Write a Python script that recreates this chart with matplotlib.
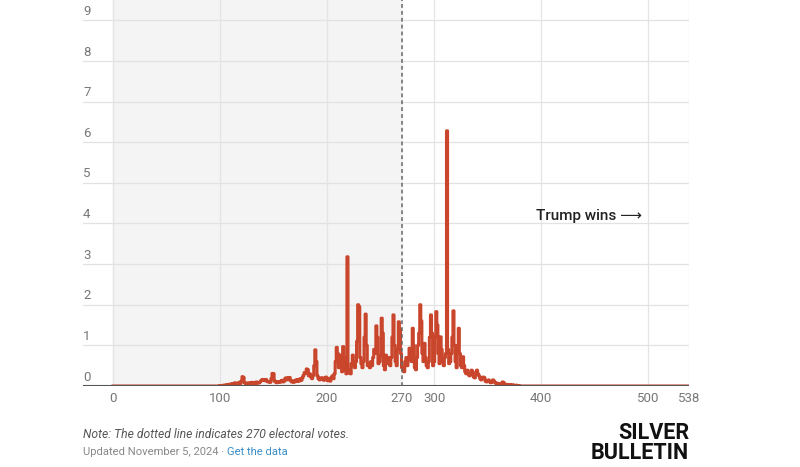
import numpy as np
import matplotlib.pyplot as plt

# electoral votes 100..379, probability (%) of each outcome
ev_start = 100
probs = [
    0.01, 0.01, 0.01, 0.02, 0.01, 0.02, 0.03, 0.02, 0.04, 0.03,
    0.05, 0.04, 0.06, 0.05, 0.08, 0.06, 0.05, 0.07, 0.09, 0.06,
    0.12, 0.23, 0.21, 0.08, 0.06, 0.07, 0.05, 0.08, 0.06, 0.07,
    0.09, 0.07, 0.08, 0.06, 0.10, 0.08, 0.07, 0.09, 0.12, 0.15,
    0.16, 0.14, 0.13, 0.16, 0.12, 0.10, 0.11, 0.09, 0.18, 0.31,
    0.30, 0.12, 0.10, 0.08, 0.11, 0.10, 0.09, 0.12, 0.14, 0.10,
    0.12, 0.19, 0.20, 0.15, 0.20, 0.21, 0.14, 0.10, 0.12, 0.09,
    0.13, 0.15, 0.11, 0.16, 0.12, 0.18, 0.14, 0.20, 0.26, 0.33,
    0.31, 0.42, 0.40, 0.25, 0.30, 0.22, 0.18, 0.26, 0.50, 0.89,
    0.60, 0.25, 0.18, 0.15, 0.20, 0.17, 0.20, 0.14, 0.16, 0.22,
    0.15, 0.13, 0.19, 0.12, 0.20, 0.25, 0.18, 0.30, 0.60, 0.95,
    0.80, 0.45, 0.76, 0.50, 0.35, 0.97, 0.70, 0.40, 0.30, 3.18,
    0.40, 0.32, 0.30, 0.55, 0.76, 0.50, 0.45, 0.60, 1.10, 2.00,
    1.95, 0.70, 0.55, 0.45, 0.60, 1.20, 1.77, 1.00, 0.50, 0.55,
    0.45, 0.60, 0.50, 0.70, 0.90, 0.80, 1.48, 1.20, 0.55, 0.60,
    0.75, 1.67, 1.30, 0.50, 0.40, 0.76, 0.60, 0.55, 0.70, 0.50,
    0.70, 1.20, 1.75, 1.00, 0.60, 0.50, 0.90, 1.58, 1.40, 0.80,
    0.45, 0.40, 0.35, 0.60, 0.70, 0.50, 0.65, 0.93, 0.80, 0.60,
    1.42, 1.00, 0.45, 0.40, 0.70, 1.00, 1.30, 2.00, 1.60, 0.80,
    0.60, 1.05, 0.70, 0.50, 0.45, 0.60, 1.20, 1.75, 1.30, 0.50,
    0.60, 1.20, 1.83, 1.50, 0.80, 0.55, 1.21, 0.90, 0.60, 0.50,
    0.70, 0.80, 6.28, 0.90, 0.55, 0.60, 0.80, 1.20, 1.85, 1.00,
    0.60, 0.45, 1.00, 1.42, 0.80, 0.50, 0.45, 0.72, 0.50, 0.35,
    0.30, 0.39, 0.30, 0.25, 0.28, 0.39, 0.35, 0.22, 0.20, 0.30,
    0.39, 0.30, 0.25, 0.18, 0.15, 0.20, 0.22, 0.20, 0.12, 0.10,
    0.12, 0.15, 0.10, 0.08, 0.10, 0.15, 0.12, 0.08, 0.06, 0.07,
    0.05, 0.06, 0.04, 0.05, 0.10, 0.08, 0.04, 0.03, 0.04, 0.03,
    0.02, 0.03, 0.02, 0.03, 0.02, 0.02, 0.01, 0.02, 0.01, 0.01,
]
x_ticks = [0, 100, 200, 270, 300, 400, 500, 538]
y_ticks = list(range(10))

ev = np.arange(0, 539)
vals = np.zeros(len(ev))
vals[ev_start:ev_start + len(probs)] = probs

plt.rcParams['font.family'] = ['Roboto', 'DejaVu Sans']

fig = plt.figure(figsize=(8, 4.67), dpi=100)
ax = fig.add_axes([83 / 800, (467 - 386) / 467, 606 / 800, 386 / 467])
ax.set_xlim(-28, 538)
ax.set_ylim(0, 9.5)

# shaded Harris side
ax.axvspan(0, 270, color='#f4f4f4', zorder=0)

for y in y_ticks[1:]:
    ax.axhline(y, color='#e2e2e2', lw=0.9, zorder=1)
for y in y_ticks:
    ax.text(-28, y + 0.06, str(y), color='#777777', fontsize=9.5,
            ha='left', va='bottom')
for x in [0, 100, 200, 300, 400, 500, 538]:
    ax.axvline(x, color='#e4e4e4', lw=0.9, zorder=1)

ax.plot(ev, vals, drawstyle='steps-mid', color='#c9462c', lw=2.2, zorder=3)
ax.axhline(0, color='#555555', lw=1.5, zorder=4)
ax.axvline(270, color='#666666', lw=1.1, ls=(0, (2.5, 2)), zorder=4)

ax.text(395, 4.19, 'Trump wins \u27f6', fontsize=11, fontweight='medium',
        color='#222222', ha='left', va='center')

for s in ax.spines.values():
    s.set_visible(False)
ax.set_yticks([])
ax.set_xticks(x_ticks)
ax.set_xticklabels([str(x) for x in x_ticks], color='#777777', fontsize=9.5)
ax.tick_params(axis='x', length=0, pad=4)

fig.text(83 / 800, 1 - 434 / 467, 'Note: The dotted line indicates 270 electoral votes.',
         fontsize=8.7, style='italic', color='#555555', va='center')
t = fig.text(83 / 800, 1 - 452 / 467, 'Updated November 5, 2024 \u00b7 ', fontsize=8.1,
             color='#888888', va='center')
fig.canvas.draw()
bb = t.get_window_extent()
fig.text(bb.x1 / 800, 1 - 452 / 467, 'Get the data', fontsize=8.1,
         color='#3b8ec6', va='center')

fig.text(689 / 800, 1 - 443 / 467, 'SILVER\nBULLETIN', fontsize=15.5,
         fontweight='bold', color='#111111', ha='right', va='center',
         linespacing=0.88, family=['Liberation Sans Narrow', 'Roboto', 'DejaVu Sans'])

fig.savefig('out.png', dpi=100)
